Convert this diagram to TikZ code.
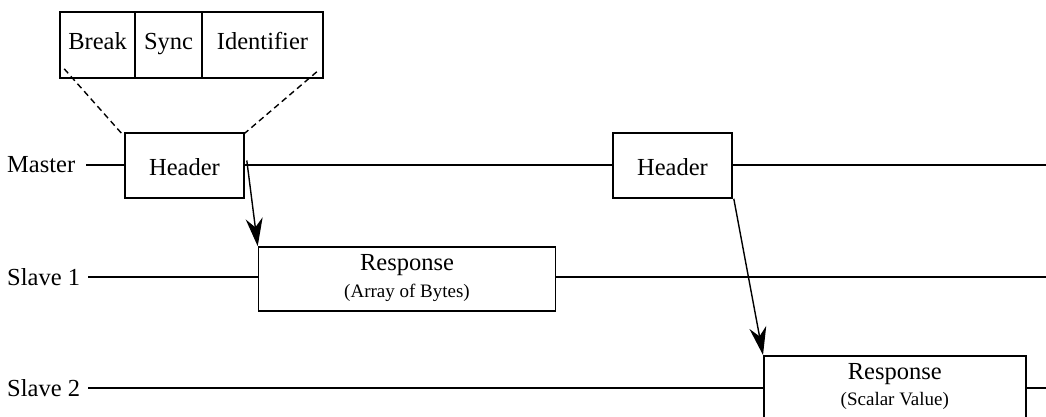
\documentclass[tikz,border=0pt]{standalone}
\usepackage{fontspec}
\setmainfont{Liberation Serif}
\usetikzlibrary{arrows.meta}
\begin{document}
\begin{tikzpicture}[x=1pt,y=-1pt,
  every node/.style={font=\fontsize{24.5}{28}\selectfont},
  frame/.style={draw,line width=1.6pt,rectangle,inner sep=0pt},
  cell/.style={frame,minimum height=66pt,text height=15pt,text depth=5pt},
  hdr/.style={frame,minimum width=119pt,minimum height=65pt,text height=21pt,text depth=1pt},
  small/.style={font=\fontsize{19}{22}\selectfont},
  bus/.style={line width=1.4pt},
  link/.style={line width=1.4pt,-{Stealth[length=28pt,width=17pt,inset=9pt]}},
  zoomline/.style={line width=1.4pt,dash pattern=on 6pt off 4pt}]
\useasboundingbox (0,0) rectangle (1046,417);

% header fields
\node[cell,minimum width=75pt] (brk) at (97.5,45) {Break};
\node[cell,minimum width=67pt] (syn) at (168.5,45) {Sync};
\node[cell,minimum width=121pt] (idf) at (262.5,45) {Identifier};

% lane labels
\node[anchor=west,inner sep=0pt] (lm) at (7,165) {Master};
\node[anchor=west,inner sep=0pt] (ls1) at (7,277) {Slave 1};
\node[anchor=west,inner sep=0pt] (ls2) at (7,388) {Slave 2};

% frames on the bus
\node[hdr] (h1) at (184.5,165.5) {Header};
\node[hdr] (h2) at (672.5,165.5) {Header};
\node[frame,minimum width=297pt,minimum height=64pt] (r1) at (407,279) {};
\node[anchor=base] (r1t) at ([yshift=-24pt]r1.north) {Response};
\node[small,anchor=base] (r1s) at ([yshift=-51pt]r1.north) {(Array of Bytes)};
\node[frame,minimum width=262pt,minimum height=66pt,anchor=north west] (r2) at (763,355) {};
\node[anchor=base] (r2t) at ([yshift=-24pt]r2.north) {Response};
\node[small,anchor=base] (r2s) at ([yshift=-50pt]r2.north) {(Scalar Value)};

% lane ends
\coordinate (em) at (1046,165);
\coordinate (e1) at (1046,277);
\coordinate (e2) at (1046,388);
\coordinate (m0) at (86,165);
\coordinate (s10) at (88,277);
\coordinate (s20) at (88,388);

% master lane
\draw[bus] (m0) -- (h1.west |- m0);
\draw[bus] (h1.east |- m0) -- (h2.west |- m0);
\draw[bus] (h2.east |- m0) -- (em);
% slave 1 lane
\draw[bus] (s10) -- (r1.west |- s10);
\draw[bus] (r1.east |- s10) -- (e1);
% slave 2 lane
\draw[bus] (s20) -- (r2.west |- s20);
\draw[bus] (r2.east |- s20) -- (e2);

% expansion of the header
\draw[zoomline] ([xshift=5pt,yshift=10pt]brk.south west) -- ([xshift=-1pt,yshift=-3pt]h1.north west);
\draw[zoomline] ([xshift=-7pt,yshift=7pt]idf.south east) -- ([xshift=0pt,yshift=-1pt]h1.north east);

% request/response arrows
\draw[link] ([xshift=2pt,yshift=5pt]h1.east) -- (r1.north west);
\draw[link] ([xshift=1pt]h2.south east) -- (r2.north west);
\end{tikzpicture}
\end{document}
